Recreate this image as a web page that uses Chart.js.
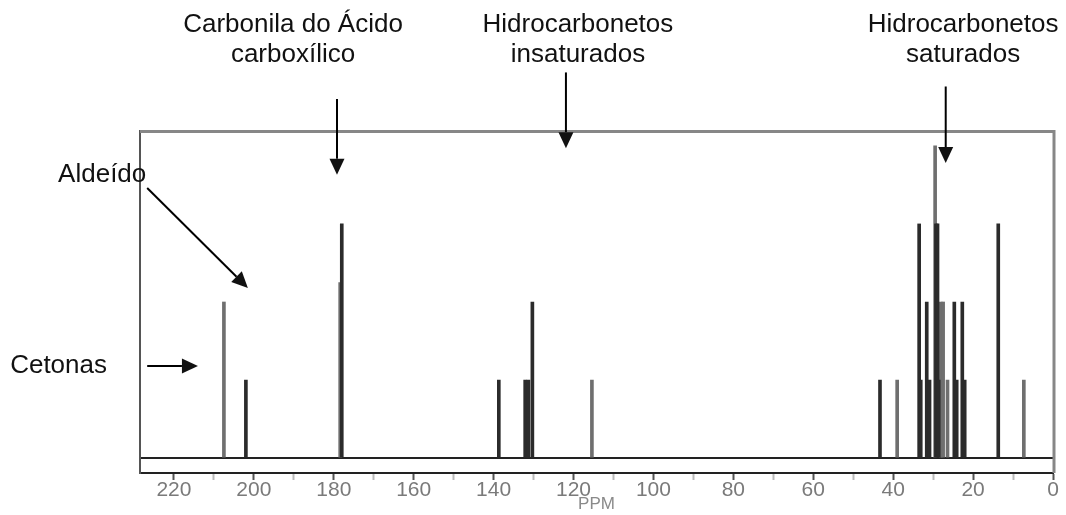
<!DOCTYPE html>
<html lang="pt">
<head>
<meta charset="utf-8">
<title>Espectro de RMN de 13C</title>
<script src="https://cdn.jsdelivr.net/npm/chart.js@4.4.1/dist/chart.umd.min.js"></script>
<style>
  html, body { margin: 0; padding: 0; background: #fff; }
  #wrap { width: 1066px; height: 515px; }
</style>
</head>
<body>
<div id="wrap"><canvas id="rmn" width="1066" height="515"></canvas></div>
<script>
// sinais do espectro: deslocamento (ppm) e altura relativa
const darkShifts  = [202.0, 178.0, 138.7, 132.1, 131.3, 130.3, 43.3, 33.5, 33.1, 31.6, 30.9, 29.3, 28.9, 28.6, 24.7, 24.1, 22.7, 22.1, 13.7];
const darkHeights = [1, 3, 1, 1, 1, 2, 1, 3, 1, 2, 1, 3, 3, 1, 2, 1, 2, 1, 3];
const grayShifts  = [207.5, 178.4, 115.4, 39.0, 29.5, 28.1, 27.5, 26.4, 7.3];
const grayHeights = [2, 2.25, 1, 1, 4, 2, 2, 1, 1];

// eixo de ppm
const tickValues = [220, 210, 200, 190, 180, 170, 160, 150, 140, 130, 120, 110, 100, 90, 80, 70, 60, 50, 40, 30, 20, 10, 0];
const ppmMax = 228.5;
const axisTitle = 'PPM';

// legendas com setas (posições em ppm / altura)
const notes = [
  { lines: ['Carbonila do Ácido', 'carboxílico'], ppm: 190.2, h: 5.46, align: 'center' },
  { lines: ['Hidrocarbonetos', 'insaturados'], ppm: 118.9, h: 5.46, align: 'center' },
  { lines: ['Hidrocarbonetos', 'saturados'], ppm: 22.5, h: 5.46, align: 'center' },
  { lines: ['Aldeído'], ppm: 249.0, h: 3.54, align: 'left' },
  { lines: ['Cetonas'], ppm: 261.0, h: 1.09, align: 'left' }
];
const arrows = [
  { from: [179.2, 4.60], to: [179.2, 3.63] },
  { from: [121.9, 4.94], to: [121.9, 3.97] },
  { from: [26.85, 4.76], to: [26.85, 3.78] },
  { from: [226.7, 3.46], to: [201.5, 2.18] },
  { from: [226.7, 1.18], to: [214.0, 1.18] }
];

const toPoints = (xs, ys) => xs.map((s, i) => ({ x: s, y: ys[i] }));

const frameAndNotes = {
  id: 'frameAndNotes',
  afterDraw(chart) {
    const { ctx, chartArea: a, scales: { x, y } } = chart;
    ctx.save();
    // moldura superior e direita
    ctx.strokeStyle = '#878787';
    ctx.lineWidth = 3;
    ctx.beginPath();
    ctx.moveTo(a.left, a.top + 0.5);
    ctx.lineTo(a.right + 1, a.top + 0.5);
    ctx.lineTo(a.right + 1, a.bottom);
    ctx.stroke();

    // textos
    ctx.fillStyle = '#111';
    ctx.font = '26px "Liberation Sans", Arial, sans-serif';
    ctx.textBaseline = 'alphabetic';
    notes.forEach(n => {
      ctx.textAlign = n.align;
      const px = x.getPixelForValue(n.ppm);
      const py = y.getPixelForValue(n.h);
      n.lines.forEach((t, i) => ctx.fillText(t, px, py + i * 30));
    });

    // setas
    ctx.strokeStyle = '#000';
    ctx.lineWidth = 2;
    arrows.forEach(ar => {
      const x0 = x.getPixelForValue(ar.from[0]), y0 = y.getPixelForValue(ar.from[1]);
      const x1 = x.getPixelForValue(ar.to[0]), y1 = y.getPixelForValue(ar.to[1]);
      const ang = Math.atan2(y1 - y0, x1 - x0);
      const len = 16, hw = 7.5;
      const bx = x1 - Math.cos(ang) * len, by = y1 - Math.sin(ang) * len;
      ctx.beginPath();
      ctx.moveTo(x0, y0);
      ctx.lineTo(bx, by);
      ctx.stroke();
      ctx.beginPath();
      ctx.moveTo(x1, y1);
      ctx.lineTo(bx - Math.sin(ang) * hw, by + Math.cos(ang) * hw);
      ctx.lineTo(bx + Math.sin(ang) * hw, by - Math.cos(ang) * hw);
      ctx.closePath();
      ctx.fill();
    });
    ctx.restore();
  }
};

new Chart(document.getElementById('rmn'), {
  type: 'bar',
  data: {
    datasets: [
      { data: toPoints(grayShifts, grayHeights), backgroundColor: '#6f6f6f', order: 2 },
      { data: toPoints(darkShifts, darkHeights), backgroundColor: '#2b2b2b', order: 1 }
    ]
  },
  options: {
    responsive: false,
    animation: false,
    grouped: false,
    barThickness: 3,
    borderWidth: 0,
    layout: { padding: { left: 140, right: 13, top: 131, bottom: 0 } },
    plugins: { legend: { display: false }, tooltip: { enabled: false } },
    scales: {
      x: {
        type: 'linear',
        reverse: true,
        min: 0,
        max: ppmMax,
        offset: false,
        afterBuildTicks: s => { s.ticks = tickValues.map(v => ({ value: v })); },
        afterFit: s => { s.height = 42; },
        border: { display: true, color: '#222', width: 2 },
        grid: {
          display: true,
          offset: false,
          drawOnChartArea: false,
          drawTicks: true,
          tickLength: 7,
          tickWidth: 2,
          tickColor: c => (c.tick && c.tick.value % 20 === 0 ? '#555' : '#bbb')
        },
        ticks: {
          autoSkip: false,
          maxRotation: 0,
          padding: 0,
          color: '#7a7a7a',
          font: { family: '"Liberation Sans", Arial, sans-serif', size: 21, lineHeight: 1 },
          callback: v => (v % 20 === 0 ? String(v) : '')
        },
        title: {
          display: true,
          text: axisTitle,
          color: '#8a8a8a',
          padding: { top: 0, bottom: 0 },
          font: { family: '"Liberation Sans", Arial, sans-serif', size: 17 }
        }
      },
      y: {
        min: -0.19,
        max: 4.19,
        afterBuildTicks: s => { s.ticks = [{ value: 0 }]; },
        afterFit: s => { s.width = 0; },
        border: { display: true, color: '#555', width: 2 },
        grid: { color: '#222', lineWidth: 2, drawTicks: false },
        ticks: { display: false }
      }
    }
  },
  plugins: [frameAndNotes]
});
</script>
</body>
</html>
